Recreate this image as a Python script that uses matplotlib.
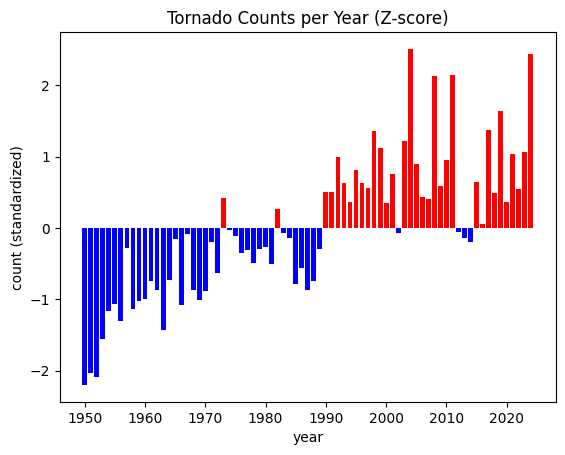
import numpy as np
import matplotlib
matplotlib.use("Agg")
import matplotlib.pyplot as plt

years = np.arange(1950, 2025)
zscores = [
    -2.20, -2.03, -2.09, -1.55, -1.17, -1.06, -1.31, -0.28, -1.13, -1.02,  # 1950s
    -0.99, -0.75, -0.87, -1.43, -0.73, -0.16, -1.08, -0.08, -0.87, -1.01,  # 1960s
    -0.88, -0.19, -0.63, 0.42, -0.03, -0.11, -0.35, -0.31, -0.49, -0.29,   # 1970s
    -0.27, -0.50, 0.26, -0.07, -0.14, -0.78, -0.56, -0.87, -0.74, -0.29,   # 1980s
    0.51, 0.51, 0.99, 0.63, 0.36, 0.81, 0.63, 0.56, 1.36, 1.12,            # 1990s
    0.35, 0.75, -0.07, 1.22, 2.51, 0.89, 0.43, 0.40, 2.13, 0.59,           # 2000s
    0.95, 2.14, -0.06, -0.14, -0.19, 0.64, 0.05, 1.37, 0.49, 1.64,         # 2010s
    0.36, 1.04, 0.55, 1.07, 2.44,                                          # 2020s
]

colors = ['red' if z > 0 else 'blue' for z in zscores]

fig, ax = plt.subplots(figsize=(6.4, 4.8), dpi=100)
ax.bar(years, zscores, color=colors)
ax.set_title('Tornado Counts per Year (Z-score)')
ax.set_xlabel('year')
ax.set_ylabel('count (standardized)')

fig.savefig('out.png', bbox_inches='tight')
